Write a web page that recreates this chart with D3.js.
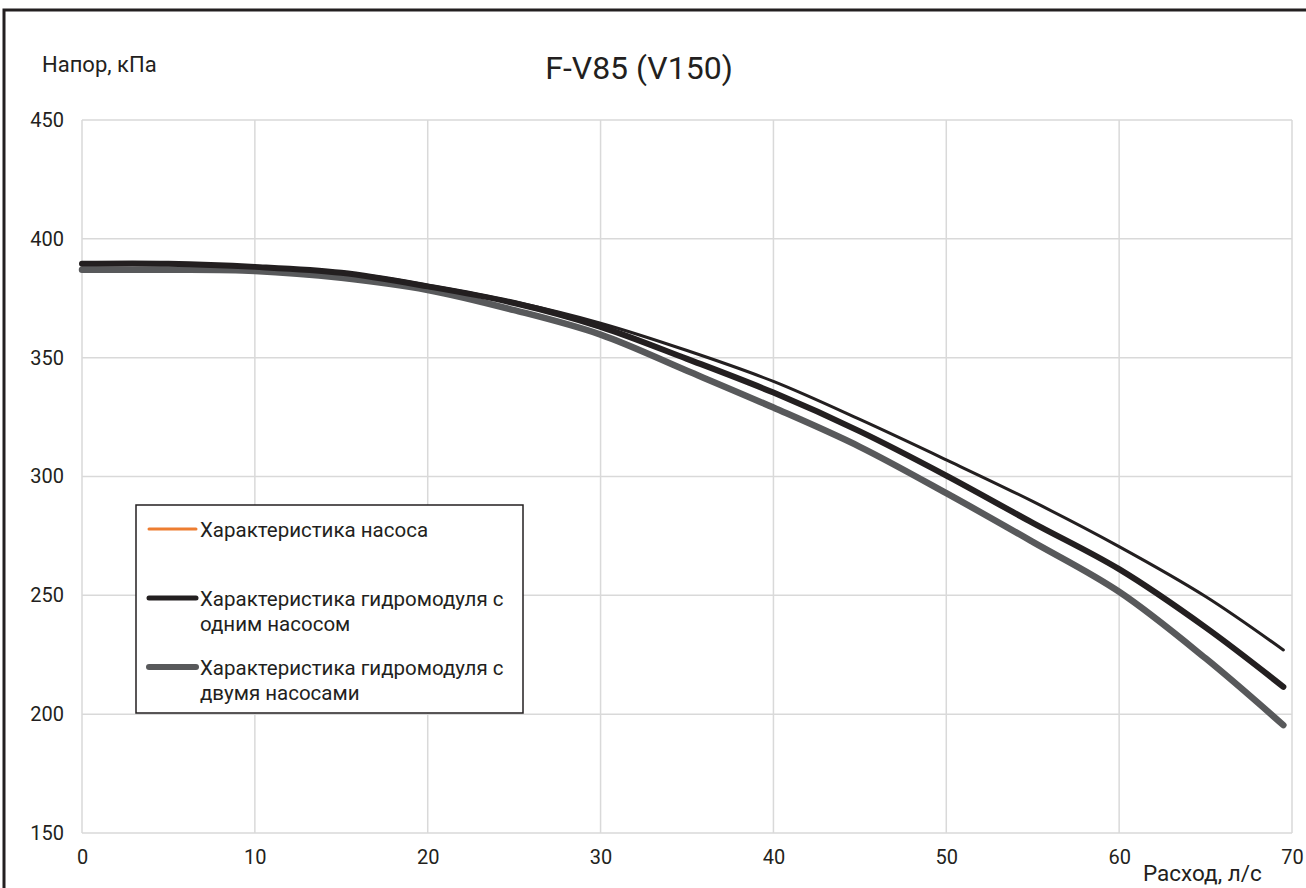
<!DOCTYPE html>
<html>
<head>
<meta charset="utf-8">
<script src="https://cdn.jsdelivr.net/npm/d3@7"></script>
<style>
  html, body { margin: 0; padding: 0; background: #fff; }
  svg { display: block; }
  text { font-family: Roboto, "DejaVu Sans", sans-serif; fill: #231f20; }
</style>
</head>
<body>
<svg id="chart" width="1306" height="888"></svg>
<script>
// ---- data ----
const flow = [0, 5, 10, 15, 20, 25, 30, 35, 40, 45, 50, 55, 60, 65, 69.5];
const pumpHead = [389.5, 389.5, 388.3, 386, 380.5, 373.5, 364.5, 353, 340, 324, 307, 289.5, 270.5, 249.5, 227];
const oneHead  = [389.5, 389.5, 388.2, 385.7, 380, 373, 363, 349.5, 335.3, 319, 300.4, 280.5, 261, 236.5, 211.5];
const twoHead  = [387, 387, 386.5, 383.6, 378.5, 370, 359.7, 344.5, 329, 312.5, 293, 272.5, 251.5, 223.5, 195.4];
const xTicks = [0, 10, 20, 30, 40, 50, 60, 70];
const yTicks = [150, 200, 250, 300, 350, 400, 450];
const legendLabels = [
  ["Характеристика насоса"],
  ["Характеристика гидромодуля с", "одним насосом"],
  ["Характеристика гидромодуля с", "двумя насосами"]
];
const titleText = "F-V85 (V150)";
const yTitle = "Напор, кПа";
const xTitle = "Расход, л/с";

(function () {
// ---- layout ----
const svg = d3.select("#chart");
const pL = 82, pR = 1292, pT = 120, pB = 833;
const x = d3.scaleLinear().domain([0, 70]).range([pL, pR]);
const y = d3.scaleLinear().domain([150, 450]).range([pB, pT]);

// outer frame
svg.append("rect").attr("x", 4).attr("y", 10).attr("width", 1320).attr("height", 900)
  .attr("fill", "none").attr("stroke", "#231f20").attr("stroke-width", 3);

// grid
const grid = svg.append("g");
grid.selectAll("line.v").data(xTicks).join("line").attr("class", "v")
  .attr("x1", d => x(d)).attr("x2", d => x(d)).attr("y1", pT).attr("y2", pB)
  .attr("stroke", "#d9d9d9").attr("stroke-width", 1.5);
grid.selectAll("line.h").data(yTicks).join("line").attr("class", "h")
  .attr("x1", pL).attr("x2", pR).attr("y1", d => y(d)).attr("y2", d => y(d))
  .attr("stroke", "#d9d9d9").attr("stroke-width", 1.5);

// axes (labels only)
const yAxis = d3.axisLeft(y).tickValues(yTicks).tickSize(0).tickPadding(18);
const gy = svg.append("g").attr("transform", `translate(${pL},0)`).call(yAxis);
gy.select(".domain").remove();
gy.selectAll("text").style("font-size", "20px").style("font-family", "Roboto, sans-serif").attr("fill", "#231f20");

const xAxis = d3.axisBottom(x).tickValues(xTicks).tickSize(0).tickPadding(17);
const gx = svg.append("g").attr("transform", `translate(0,${pB})`).call(xAxis);
gx.select(".domain").remove();
gx.selectAll("text").style("font-size", "20px").style("font-family", "Roboto, sans-serif").attr("fill", "#231f20");

// lines
const line = d3.line().x(d => x(d[0])).y(d => y(d[1])).curve(d3.curveCatmullRom.alpha(0.5));
const series = [
  { vals: twoHead, color: "#58595b", width: 6.5 },
  { vals: oneHead, color: "#231f20", width: 6 },
  { vals: pumpHead, color: "#231f20", width: 3 }
];
series.forEach(s => {
  svg.append("path").datum(flow.map((f, i) => [f, s.vals[i]]))
    .attr("d", line).attr("fill", "none")
    .attr("stroke", s.color).attr("stroke-width", s.width)
    .attr("stroke-linecap", "round").attr("stroke-linejoin", "round");
});

// titles
svg.append("text").attr("x", 639).attr("y", 79).attr("text-anchor", "middle")
  .style("font-size", "32px").text(titleText);
svg.append("text").attr("x", 42).attr("y", 72).style("font-size", "22px").text(yTitle);
svg.append("text").attr("x", 1143).attr("y", 881).style("font-size", "22.5px").text(xTitle);

// legend
const lg = svg.append("g");
lg.append("rect").attr("x", 136).attr("y", 505).attr("width", 387).attr("height", 208)
  .attr("fill", "#fff").attr("stroke", "#231f20").attr("stroke-width", 1.5);
const legendItems = [
  { color: "#ed7d31", width: 3, y: 529 },
  { color: "#231f20", width: 5, y: 598 },
  { color: "#58595b", width: 6, y: 667 }
];
legendItems.forEach((it, i) => {
  lg.append("line").attr("x1", 149).attr("x2", 196).attr("y1", it.y).attr("y2", it.y)
    .attr("stroke", it.color).attr("stroke-width", it.width).attr("stroke-linecap", "round");
  legendLabels[i].forEach((t, j) => {
    lg.append("text").attr("x", 200).attr("y", it.y + 7.5 + j * 25.5)
      .style("font-size", "20.5px").text(t);
  });
});
})();
</script>
</body>
</html>
